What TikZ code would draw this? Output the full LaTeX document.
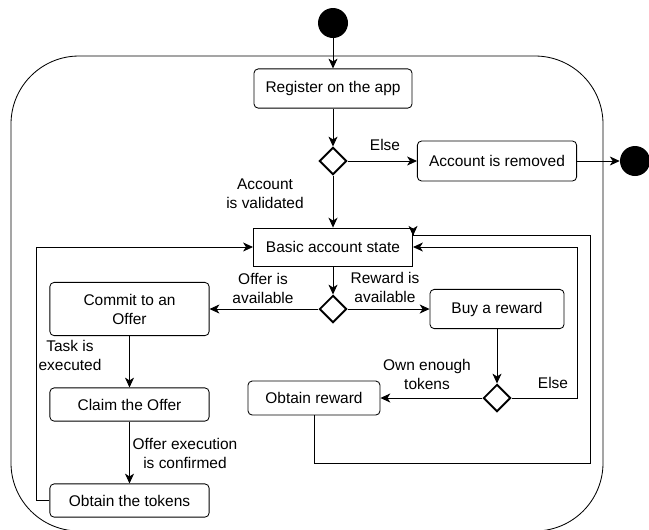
\documentclass[tikz,border=0pt]{standalone}
\usepackage{fontspec}
\setmainfont{Liberation Sans}
\usetikzlibrary{shapes.geometric,arrows.meta,calc}

\begin{document}
\begin{tikzpicture}[x=0.025cm,y=-0.025cm,
        every node/.style={font=\fontsize{11}{13.5}\selectfont},
        act/.style={draw,rounded corners=3pt,line width=0.6pt,align=center,inner sep=0pt},
        choice/.style={draw,diamond,line width=1.3pt,minimum width=0.68cm,minimum height=0.68cm,inner sep=0pt},
        dot/.style={circle,fill=black,minimum size=0.75cm,inner sep=0pt},
        flow/.style={line width=0.6pt,-{Stealth[length=7pt,width=6.4pt,inset=2pt]}},
        lbl/.style={align=center,inner sep=0pt}]
        \useasboundingbox (0,0) rectangle (649,529);
        % frame of the app states
        \draw[line width=0.6pt,rounded corners=1.7cm] (11,56) rectangle (603,531);

        \node[dot] (start) at (333,23) {};
        \node[act,minimum width=3.95cm,minimum height=0.98cm] (reg) at (333,88.5) {Register on the app};
        \node[choice] (d1) at (333,161) {};
        \node[act,minimum width=3.98cm,minimum height=1cm] (removed) at (497,161) {Account is removed};
        \node[dot] (stop) at (635,161) {};
        \node[act,rounded corners=0pt,minimum width=3.98cm,minimum height=0.95cm] (basic) at (333,247) {Basic account state};
        \node[choice] (d2) at (333,309) {};
        \node[act,minimum width=3.98cm,minimum height=1.33cm] (commit) at (129.5,309) {Commit to an\\Offer};
        \node[act,minimum width=3.35cm,minimum height=0.98cm] (buy) at (497,309) {Buy a reward};
        \node[choice] (d3) at (497,398) {};
        \node[act,minimum width=3.3cm,minimum height=0.85cm] (orew) at (314,398) {Obtain reward};
        \node[act,minimum width=3.98cm,minimum height=0.83cm] (claim) at (129.5,404.5) {Claim the Offer};
        \node[act,minimum width=3.98cm,minimum height=0.83cm] (tokens) at (129.5,500.5) {Obtain the tokens};

        % guards
        \node[lbl] (elseA) at (385,145) {Else};
        \node[lbl] (valid) at (265,194) {Account\\is validated};
        \node[lbl] (offav) at (263,288) {Offer is\\available};
        \node[lbl] (rewav) at (385,287) {Reward is\\available};
        \node[lbl] (task) at (70,355) {Task is\\executed};
        \node[lbl] (conf) at (185,453) {Offer execution\\is confirmed};
        \node[lbl] (enough) at (427,374) {Own enough\\tokens};
        \node[lbl] (elseB) at (553,383) {Else};

        \draw[flow] (start) -- (reg);
        \draw[flow] (reg) -- (d1);
        \draw[flow] (d1) -- (removed);
        \draw[flow] (removed) -- (stop);
        \draw[flow] (d1) -- (basic);
        \draw[flow] (basic) -- (d2);
        \draw[flow] (d2) -- (commit);
        \draw[flow] (d2) -- (buy);
        \draw[flow] (commit) -- (claim);
        \draw[flow] (claim) -- (tokens);
        \draw[flow] (tokens.west) -- ++(-13,0) |- (basic.west);
        \draw[flow] (buy) -- (d3);
        \draw[flow] (d3) -- (orew);
        \draw[flow] (d3.east) -- ++(66,0) |- (basic.east);
        \draw[flow] (orew.south) -- ++(0,48) -| ($(basic.north east)+(177,8)$) -- ($(basic.north east)+(0,8)$) -- ++(0,0.1);
\end{tikzpicture}
\end{document}
